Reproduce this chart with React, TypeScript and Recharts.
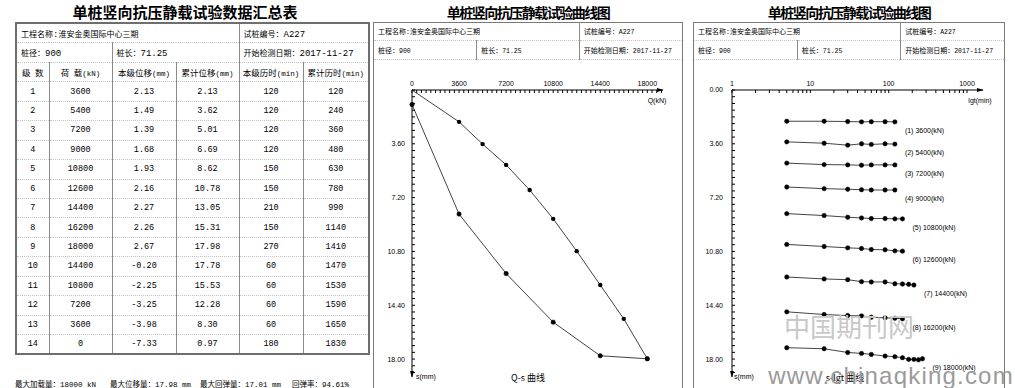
import React from 'react'
import { LineChart, Line, XAxis, YAxis, LabelList } from 'recharts'

// header info
const PROJECT = '工程名称:淮安金奥国际中心三期'
const PILE_NO = '试桩编号：A227'
const PILE_DIAM = '桩径：900'
const PILE_LEN = '桩长：71.25'
const START_DATE = '开始检测日期：2017-11-27'

// summary table
const headers = ['级 数', '荷 载(kN)', '本级位移(mm)', '累计位移(mm)', '本级历时(min)', '累计历时(min)']
const levels = [1, 2, 3, 4, 5, 6, 7, 8, 9, 10, 11, 12, 13, 14]
const loads = [3600, 5400, 7200, 9000, 10800, 12600, 14400, 16200, 18000, 14400, 10800, 7200, 3600, 0]
const stepDisp = ['2.13', '1.49', '1.39', '1.68', '1.93', '2.16', '2.27', '2.26', '2.67', '-0.20', '-2.25', '-3.25', '-3.98', '-7.33']
const cumDisp = [2.13, 3.62, 5.01, 6.69, 8.62, 10.78, 13.05, 15.31, 17.98, 17.78, 15.53, 12.28, 8.3, 0.97]
const stepTime = [120, 120, 120, 120, 150, 150, 210, 150, 270, 60, 60, 60, 60, 180]
const cumTime = [120, 240, 360, 480, 630, 780, 990, 1140, 1410, 1470, 1530, 1590, 1650, 1830]
const summary = ['最大加载量：18000 kN', '最大位移量：17.98 mm', '最大回弹量：17.01 mm', '回弹率：94.61%']

// s-lgt readings (cumulative settlement, mm) per load level
const readTimes = [5, 15, 30, 45, 60, 90, 120, 150, 180, 210, 240, 270]
const lvl1 = [2.09, 2.09, 2.11, 2.13, 2.12, 2.12, 2.13]
const lvl2 = [3.47, 3.56, 3.69, 3.6, 3.64, 3.6, 3.62]
const lvl3 = [4.89, 4.99, 5.01, 5.03, 5.01, 5.01, 5.01]
const lvl4 = [6.49, 6.6, 6.64, 6.67, 6.69, 6.69, 6.69]
const lvl5 = [8.27, 8.4, 8.51, 8.56, 8.6, 8.6, 8.62, 8.62]
const lvl6 = [10.33, 10.47, 10.56, 10.6, 10.67, 10.69, 10.76, 10.78]
const lvl7 = [12.51, 12.64, 12.69, 12.82, 12.84, 12.84, 12.96, 12.98, 13.0, 13.05]
const lvl8 = [14.84, 15.02, 15.09, 15.11, 15.2, 15.24, 15.27, 15.31]
const lvl9 = [17.24, 17.31, 17.56, 17.62, 17.69, 17.8, 17.84, 17.91, 18.02, 18.02, 18.05, 17.98]
const readings = [lvl1, lvl2, lvl3, lvl4, lvl5, lvl6, lvl7, lvl8, lvl9]

// axis ticks
const qTicks = Array.from({ length: 54 }, (_, i) => i * 360)
const qLabels = [0, 3600, 7200, 10800, 14400, 18000]
const sTicks = Array.from({ length: 43 }, (_, i) => Math.round(i * 45) / 100)
const sLabels = [3.6, 7.2, 10.8, 14.4, 18]
const tTicks = [1, 2, 3, 4, 5, 6, 7, 8, 9, 10, 20, 30, 40, 50, 60, 70, 80, 90, 100, 200, 300, 400, 500, 600, 700, 800, 900, 1000]
const tLabels = [1, 10, 100, 1000]

const loading = [{ q: 0, s: 0 }, ...loads.slice(0, 9).map((q, i) => ({ q, s: cumDisp[i] }))]
const unloading = loads.slice(8).map((q, i) => ({ q, s: cumDisp[i + 8] }))
const timeSeries = readings.map((arr, k) =>
  arr.map((s, i) => ({ t: readTimes[i], s, tag: i === arr.length - 1 ? `(${k + 1}) ${loads[k]}(kN)` : undefined }))
)

const CJK_FONT = '"Noto Sans CJK SC", sans-serif'
const MONO_FONT = '"Liberation Mono", monospace'
const AXIS_FONT = '"Liberation Sans", Arial, sans-serif'
const CJK_RE = /([\u2e80-\u9fff\uff00-\uffef\u3000-\u303f]+)/

function Mixed({ text, cjk, lat }: { text: string; cjk: number; lat: number }) {
  const parts = text.split(CJK_RE).filter(Boolean)
  return (
    <>
      {parts.map((p, i) =>
        CJK_RE.test(p)
          ? <span key={i} style={{ fontFamily: CJK_FONT, fontSize: cjk }}>{p}</span>
          : <span key={i} style={{ fontFamily: MONO_FONT, fontSize: lat, whiteSpace: 'pre' }}>{p}</span>
      )}
    </>
  )
}

const cell = (extra: React.CSSProperties = {}): React.CSSProperties => ({
  borderLeft: '1px solid #8a8a8a',
  borderRight: '1px solid #8a8a8a',
  borderBottom: '1px dotted #c4c4c4',
  padding: 0,
  height: 18.45,
  textAlign: 'center',
  verticalAlign: 'middle',
  lineHeight: '12px',
  whiteSpace: 'nowrap',
  overflow: 'hidden',
  color: '#000',
  ...extra,
})
const infoCell = (extra: React.CSSProperties = {}) => cell({ textAlign: 'left', paddingLeft: 4, ...extra })

const AXIS_TICK = { fontSize: 7, fill: '#000', fontFamily: AXIS_FONT }

function Title({ text, left, width, size, spacing }: { text: string; left: number; width: number; size: number; spacing: number }) {
  return (
    <div style={{ position: 'absolute', left, top: 2, width, textAlign: 'center', fontFamily: CJK_FONT, fontWeight: 700, fontSize: size, letterSpacing: spacing, lineHeight: '20px', color: '#000' }}>
      {text}
    </div>
  )
}

function InfoRows({ left, width }: { left: number; width: number }) {
  const w = width / 3
  return (
    <table style={{ position: 'absolute', left, top: 22, width, borderCollapse: 'collapse', tableLayout: 'fixed' }}>
      <colgroup><col style={{ width: w }} /><col style={{ width: w }} /><col style={{ width: w }} /></colgroup>
      <tbody>
        <tr>
          <td colSpan={2} style={infoCell({ borderLeft: 'none', height: 18 })}><Mixed text={PROJECT} cjk={7} lat={6.5} /></td>
          <td style={infoCell({ borderRight: 'none', height: 18 })}><Mixed text={PILE_NO} cjk={7} lat={6.5} /></td>
        </tr>
        <tr>
          <td style={infoCell({ borderLeft: 'none', height: 18 })}><Mixed text={PILE_DIAM} cjk={7} lat={6.5} /></td>
          <td style={infoCell({ height: 18 })}><Mixed text={PILE_LEN} cjk={7} lat={6.5} /></td>
          <td style={infoCell({ borderRight: 'none', height: 18 })}><Mixed text={START_DATE} cjk={7} lat={6.5} /></td>
        </tr>
      </tbody>
    </table>
  )
}

function Overlay({ text, x, y, size = 7, font = AXIS_FONT, color = '#000', anchor = 'center', spacing = 0 }: { text: string; x: number; y: number; size?: number; font?: string; color?: string; anchor?: string; spacing?: number }) {
  const tx = anchor === 'center' ? 'translate(-50%, -50%)' : 'translate(0, -50%)'
  return (
    <div style={{ position: 'absolute', left: x, top: y, transform: tx, fontFamily: font, fontSize: size, color, letterSpacing: spacing, whiteSpace: 'nowrap', lineHeight: 1 }}>
      {text}
    </div>
  )
}

const dotStyle = { r: 2.2, fill: '#000', stroke: '#000', strokeWidth: 0.5 }

function loadingDot(p: any) {
  if (p.index === 0) return <g key={`ld-${p.index}`} />
  return <circle key={`ld-${p.index}`} cx={p.cx} cy={p.cy} r={2.2} fill="#000" />
}

function levelLabel(p: any) {
  if (!p.value) return null
  const x = p.viewBox?.x ?? p.x
  const y = p.viewBox?.y ?? p.y
  return <text x={x + 10} y={y + 11} fontSize={7} fontFamily={AXIS_FONT} fill="#000">{p.value}</text>
}

const fmtS = (showZero: boolean) => (v: number) =>
  sLabels.some((l) => Math.abs(l - v) < 1e-6) || (showZero && v === 0) ? v.toFixed(2) : ''

function QsChart() {
  return (
    <div style={{ position: 'absolute', left: 373, top: 62 }}>
      <LineChart width={310} height={326} margin={{ top: 0, right: 20, bottom: 11, left: 0 }}>
        <XAxis dataKey="q" type="number" orientation="top" domain={[0, 19200]} ticks={qTicks} interval={0}
          tickSize={-3} tickMargin={7} height={28} tick={AXIS_TICK}
          tickFormatter={(v) => (qLabels.includes(v) ? String(v) : '')}
          axisLine={{ stroke: '#000', markerEnd: 'url(#axisArrow)' }} tickLine={{ stroke: '#000' }} />
        <YAxis type="number" reversed domain={[0, 19.2]} ticks={sTicks} interval={0}
          tickSize={-3} tickMargin={10} width={39} tick={AXIS_TICK} tickFormatter={fmtS(false)}
          axisLine={{ stroke: '#000', markerEnd: 'url(#axisArrow)' }} tickLine={{ stroke: '#000' }} />
        <Line data={loading} dataKey="s" stroke="#444" strokeWidth={1} dot={loadingDot} isAnimationActive={false} />
        <Line data={unloading} dataKey="s" stroke="#444" strokeWidth={1} dot={dotStyle} isAnimationActive={false} />
      </LineChart>
    </div>
  )
}

function SlgtChart() {
  return (
    <div style={{ position: 'absolute', left: 693, top: 62 }}>
      <LineChart width={312} height={326} margin={{ top: 0, right: 22, bottom: 11, left: 0 }}>
        <XAxis dataKey="t" type="number" scale="log" orientation="top" domain={[1, 1600]} ticks={tTicks} interval={0}
          tickSize={-3} tickMargin={7} height={28} tick={AXIS_TICK}
          tickFormatter={(v) => (tLabels.includes(v) ? String(v) : '')}
          axisLine={{ stroke: '#000', markerEnd: 'url(#axisArrow)' }} tickLine={{ stroke: '#000' }} />
        <YAxis type="number" reversed domain={[0, 19.2]} ticks={sTicks} interval={0}
          tickSize={-3} tickMargin={12} width={39} tick={AXIS_TICK} tickFormatter={fmtS(true)}
          axisLine={{ stroke: '#000', markerEnd: 'url(#axisArrow)' }} tickLine={{ stroke: '#000' }} />
        {timeSeries.map((d, k) => (
          <Line key={k} data={d} dataKey="s" stroke="#444" strokeWidth={1} dot={dotStyle} isAnimationActive={false}>
            <LabelList dataKey="tag" content={levelLabel} />
          </Line>
        ))}
      </LineChart>
    </div>
  )
}

export default function App() {
  return (
    <div style={{ position: 'absolute', left: 0, top: 0, width: 1015, height: 388, overflow: 'hidden', background: '#fff' }}>
      <svg width={0} height={0} style={{ position: 'absolute' }}>
        <defs>
          <marker id="axisArrow" viewBox="0 0 10 6" refX={9} refY={3} markerWidth={7} markerHeight={5} markerUnits="userSpaceOnUse" orient="auto">
            <path d="M0,0 L10,3 L0,6 z" fill="#000" />
          </marker>
        </defs>
      </svg>

      {/* panel 1: summary table */}
      <Title text="单桩竖向抗压静载试验数据汇总表" left={0} width={370} size={15} spacing={0} />
      <table style={{ position: 'absolute', left: 15, top: 22, width: 353, borderCollapse: 'collapse', tableLayout: 'fixed', border: '2px solid #6e6e6e' }}>
        <colgroup>
          {[33, 63, 64, 63, 64, 66].map((w, i) => <col key={i} style={{ width: w }} />)}
        </colgroup>
        <tbody>
          <tr>
            <td colSpan={4} style={infoCell()}><Mixed text={PROJECT} cjk={8} lat={9} /></td>
            <td colSpan={2} style={infoCell()}><Mixed text={PILE_NO} cjk={8} lat={9} /></td>
          </tr>
          <tr>
            <td colSpan={2} style={infoCell()}><Mixed text={PILE_DIAM} cjk={8} lat={9} /></td>
            <td colSpan={2} style={infoCell()}><Mixed text={PILE_LEN} cjk={8} lat={9} /></td>
            <td colSpan={2} style={infoCell()}><Mixed text={START_DATE} cjk={8} lat={9} /></td>
          </tr>
          <tr>
            {headers.map((h, i) => <td key={i} style={cell()}><Mixed text={h} cjk={8.5} lat={7.5} /></td>)}
          </tr>
          {levels.map((lv, i) => (
            <tr key={lv}>
              {[lv, loads[i], stepDisp[i], cumDisp[i].toFixed(2), stepTime[i], cumTime[i]].map((v, j) => (
                <td key={j} style={cell({ fontFamily: MONO_FONT, fontSize: 8.5 })}>{v}</td>
              ))}
            </tr>
          ))}
        </tbody>
      </table>
      {summary.map((s, i) => (
        <div key={i} style={{ position: 'absolute', left: [15, 110, 200, 292][i], top: 377, lineHeight: '10px', whiteSpace: 'nowrap' }}>
          <Mixed text={s} cjk={7.5} lat={7.5} />
        </div>
      ))}

      {/* panel 2: Q-s curve */}
      <Title text="单桩竖向抗压静载试验曲线图" left={373} width={310} size={14} spacing={-1.5} />
      <div style={{ position: 'absolute', left: 373, top: 22, width: 308, height: 380, border: '1px solid #7a7a7a' }} />
      <InfoRows left={374} width={308} />
      <QsChart />
      <Overlay text="Q(kN)" x={657} y={100} />
      <Overlay text="s(mm)" x={416} y={376} anchor="left" />
      <Overlay text="Q-s 曲线" x={528} y={377} size={9} font={CJK_FONT} />

      {/* panel 3: s-lgt curves */}
      <Title text="单桩竖向抗压静载试验曲线图" left={693} width={312} size={14} spacing={-1.5} />
      <div style={{ position: 'absolute', left: 693, top: 22, width: 310, height: 380, border: '1px solid #7a7a7a' }} />
      <InfoRows left={694} width={310} />
      <SlgtChart />
      <Overlay text="lgt(min)" x={980} y={100} />
      <Overlay text="s(mm)" x={734} y={376} anchor="left" />
      <Overlay text="s-lgt 曲线" x={845} y={377} size={9} font={CJK_FONT} />

      {/* watermark */}
      <Overlay text="中国期刊网" x={849} y={326} size={26} font={CJK_FONT} color="#c8c8c8" />
      <Overlay text="www.chinaqking.com" x={891} y={376} size={24} font={AXIS_FONT} color="#9a9a9a" spacing={1.2} />
    </div>
  )
}
